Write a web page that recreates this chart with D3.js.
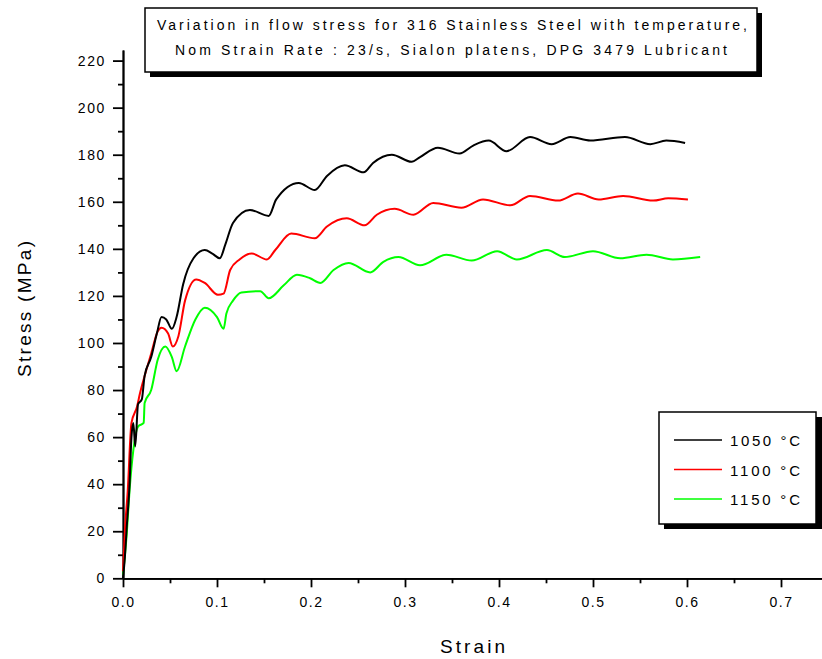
<!DOCTYPE html>
<html>
<head>
<meta charset="utf-8">
<script src="https://cdn.jsdelivr.net/npm/d3@7"></script>
<style>
  body { margin: 0; background: #fff; }
  svg { display: block; font-family: "Liberation Sans", Arial, sans-serif; }
</style>
</head>
<body>
<div id="GraphContainer"></div>
<script>
// series (strain, stress in MPa)
const strain1050 = [0, 0.002, 0.004, 0.007, 0.009, 0.011, 0.013, 0.016, 0.020, 0.023, 0.030, 0.036, 0.041, 0.046, 0.052, 0.057, 0.064, 0.075, 0.087, 0.095, 0.103, 0.109, 0.117, 0.135, 0.155, 0.163, 0.187, 0.204, 0.217, 0.236, 0.256, 0.266, 0.286, 0.307, 0.316, 0.335, 0.358, 0.373, 0.389, 0.408, 0.433, 0.456, 0.476, 0.497, 0.534, 0.561, 0.578, 0.598];
const stress1050 = [0, 9, 22, 40, 60, 66, 56, 74, 76, 86, 94, 104, 111, 110, 106, 111, 125, 136, 139.5, 138, 136, 142, 151, 156.5, 154, 161, 168, 165, 171, 175.5, 172.5, 176.5, 180, 177, 179, 183, 180.5, 184, 186, 181.5, 187.5, 184.5, 187.5, 186, 187.5, 184.5, 186, 185];

const strain1100 = [0, 0.002, 0.005, 0.009, 0.015, 0.018, 0.023, 0.030, 0.037, 0.041, 0.048, 0.053, 0.059, 0.066, 0.078, 0.087, 0.101, 0.107, 0.114, 0.124, 0.137, 0.153, 0.162, 0.179, 0.204, 0.217, 0.238, 0.257, 0.270, 0.289, 0.309, 0.330, 0.360, 0.383, 0.412, 0.433, 0.463, 0.484, 0.506, 0.532, 0.564, 0.580, 0.601];
const stress1100 = [3, 20, 37, 66, 73, 78.5, 86, 95.5, 105, 106.5, 104, 98.5, 103, 118, 127, 125.5, 120.5, 121, 131, 135.5, 138, 135.5, 139.5, 146.5, 144.5, 149.5, 153, 150, 154.5, 157, 154.5, 159.5, 157.5, 161, 158.5, 162.5, 160.5, 163.5, 161, 162.5, 160.5, 161.5, 161];

const strain1150 = [0, 0.004, 0.007, 0.011, 0.016, 0.022, 0.023, 0.030, 0.037, 0.045, 0.052, 0.057, 0.066, 0.077, 0.087, 0.100, 0.107, 0.110, 0.117, 0.126, 0.146, 0.155, 0.171, 0.185, 0.199, 0.210, 0.224, 0.240, 0.263, 0.277, 0.293, 0.316, 0.344, 0.371, 0.398, 0.419, 0.451, 0.470, 0.500, 0.529, 0.557, 0.585, 0.614];
const stress1150 = [1.5, 19, 37.5, 54.5, 64.5, 66, 74.5, 80, 93, 98.5, 94, 88, 98.5, 110, 115, 111, 106, 112.5, 118, 121.5, 122, 119, 124.5, 129, 127.5, 125.5, 131, 134, 130, 134.5, 136.5, 133, 137.5, 135, 139, 135.5, 139.5, 136.5, 139, 136, 137.5, 135.5, 136.5];

const seriesNames = ['1050 °C', '1100 °C', '1150 °C'];
const seriesColors = ['#000000', '#ff0000', '#00ff00'];
const yMajorTicks = [0, 20, 40, 60, 80, 100, 120, 140, 160, 180, 200, 220];
const yMinorTicks = [10, 30, 50, 70, 90, 110, 130, 150, 170, 190, 210];
const xMajorTicks = [0, 0.1, 0.2, 0.3, 0.4, 0.5, 0.6, 0.7];
const xMinorTicks = [0.05, 0.15, 0.25, 0.35, 0.45, 0.55, 0.65];
const titleLines = [
  'Variation in flow stress for 316 Stainless Steel with temperature,',
  'Nom Strain Rate : 23/s, Sialon platens, DPG 3479 Lubricant'
];

const width = 822;
const height = 659;

const svg = d3.select('#GraphContainer')
  .append('svg')
  .attr('width', width)
  .attr('height', height);

const xScale = d3.scaleLinear()
  .domain([0, 0.745])
  .range([123, 123 + 0.745 * 940]);

const yScale = d3.scaleLinear()
  .domain([0, 224.5])
  .range([578.3, 50]);

// axes
const yAxis = d3.axisLeft(yScale)
  .tickValues(yMajorTicks)
  .tickSize(10)
  .tickSizeOuter(0)
  .tickPadding(7)
  .tickFormat(d3.format('d'));

const yMinor = d3.axisLeft(yScale)
  .tickValues(yMinorTicks)
  .tickSize(5)
  .tickSizeOuter(0)
  .tickFormat('');

const xAxis = d3.axisBottom(xScale)
  .tickValues(xMajorTicks)
  .tickSize(9)
  .tickSizeOuter(0)
  .tickPadding(10)
  .tickFormat(d3.format('.1f'));

const xMinor = d3.axisBottom(xScale)
  .tickValues(xMinorTicks)
  .tickSize(5)
  .tickSizeOuter(0)
  .tickFormat('');

const x0 = xScale(0);
const y0 = yScale(0);

svg.append('g').attr('transform', `translate(${x0},0)`).call(yMinor);
svg.append('g').attr('transform', `translate(${x0},0)`).call(yAxis);
svg.append('g').attr('transform', `translate(0,${y0})`).call(xMinor);
svg.append('g').attr('transform', `translate(0,${y0})`).call(xAxis);

svg.selectAll('.domain, .tick line')
  .attr('stroke', '#000')
  .attr('stroke-width', 1.8);

svg.selectAll('.tick text')
  .attr('fill', '#000')
  .style('font-size', '14px')
  .style('letter-spacing', '1.6px');

// curves
const allSeries = [
  { x: strain1050, y: stress1050 },
  { x: strain1100, y: stress1100 },
  { x: strain1150, y: stress1150 }
];

const line = d3.line()
  .curve(d3.curveMonotoneX)
  .x(d => xScale(d[0]))
  .y(d => yScale(d[1]));

// draw green first so black sits on top
[2, 1, 0].forEach(i => {
  const pts = allSeries[i].x.map((v, k) => [v, allSeries[i].y[k]]);
  svg.append('path')
    .datum(pts)
    .attr('fill', 'none')
    .attr('stroke', seriesColors[i])
    .attr('stroke-width', 2)
    .attr('d', line);
});

// axis titles
svg.append('text')
  .attr('x', 440)
  .attr('y', 653)
  .attr('textLength', 65)
  .attr('lengthAdjust', 'spacing')
  .style('font-size', '19px')
  .text('Strain');

svg.append('text')
  .attr('transform', 'translate(31,377) rotate(-90)')
  .attr('textLength', 136)
  .attr('lengthAdjust', 'spacing')
  .style('font-size', '19px')
  .text('Stress (MPa)');

// title box with shadow
svg.append('rect')
  .attr('x', 150).attr('y', 13)
  .attr('width', 612).attr('height', 64)
  .attr('fill', '#000');
svg.append('rect')
  .attr('x', 145).attr('y', 8)
  .attr('width', 612).attr('height', 64)
  .attr('fill', '#fff')
  .attr('stroke', '#000')
  .attr('stroke-width', 1.5);

svg.append('text')
  .attr('x', 157).attr('y', 30)
  .attr('textLength', 590)
  .attr('lengthAdjust', 'spacing')
  .style('font-size', '14px')
  .text(titleLines[0]);
svg.append('text')
  .attr('x', 175).attr('y', 55)
  .attr('textLength', 552)
  .attr('lengthAdjust', 'spacing')
  .style('font-size', '14px')
  .text(titleLines[1]);

// legend with shadow
svg.append('rect')
  .attr('x', 664).attr('y', 417)
  .attr('width', 158).attr('height', 112)
  .attr('fill', '#000');
svg.append('rect')
  .attr('x', 659).attr('y', 412)
  .attr('width', 157).attr('height', 112)
  .attr('fill', '#fff')
  .attr('stroke', '#000')
  .attr('stroke-width', 1.5);

seriesNames.forEach((name, i) => {
  const ly = 440 + i * 29.5;
  svg.append('line')
    .attr('x1', 674).attr('x2', 722)
    .attr('y1', ly).attr('y2', ly)
    .attr('stroke', seriesColors[i])
    .attr('stroke-width', 1.5);
  svg.append('text')
    .attr('x', 730).attr('y', ly + 6)
    .attr('textLength', 70)
    .attr('lengthAdjust', 'spacing')
    .style('font-size', '15px')
    .text(name);
});
</script>
</body>
</html>
